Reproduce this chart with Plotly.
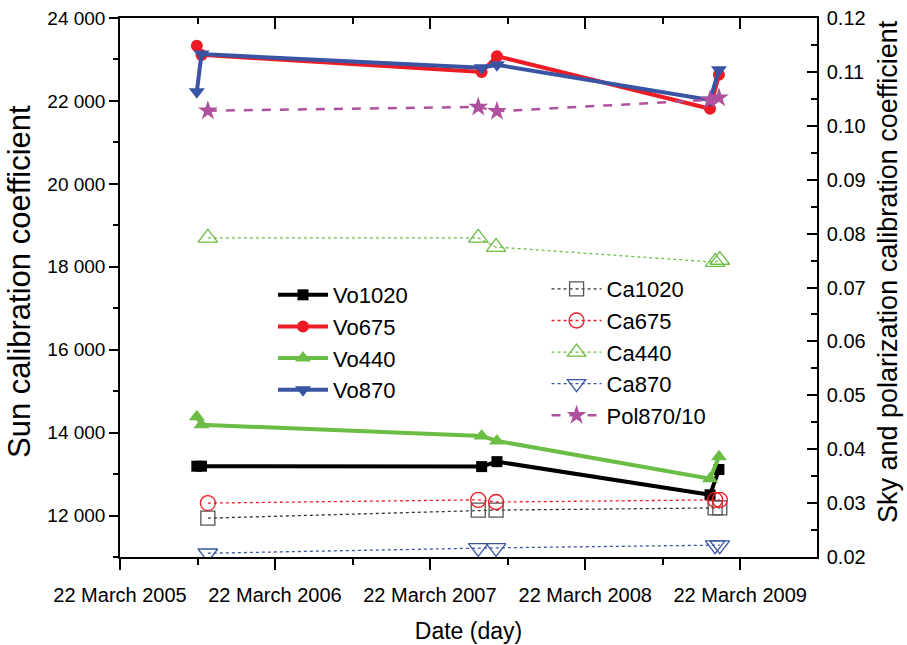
import plotly.graph_objects as go

# ---- data ----
vo_dates = ["2005-09-19", "2005-09-30", "2007-07-22", "2007-08-27", "2009-01-10", "2009-01-31"]
vo1020 = [13190, 13190, 13180, 13300, 12500, 13110]
vo675 = [23330, 23110, 22700, 23080, 21810, 22630]
vo440 = [14380, 14190, 13920, 13800, 12890, 13420]
vo870 = [22220, 23130, 22800, 22870, 22020, 22750]

ca_dates = ["2005-10-15", "2007-07-14", "2007-08-25", "2009-01-22", "2009-02-02"]
ca1020 = [0.0272, 0.0287, 0.0287, 0.0291, 0.0291]
ca675 = [0.0300, 0.0306, 0.0302, 0.0306, 0.0306]
ca440 = [0.0792, 0.0792, 0.0775, 0.0747, 0.0751]
ca870 = [0.0207, 0.0217, 0.0217, 0.0222, 0.0222]

pol_dates = ["2005-10-15", "2007-07-14", "2007-08-27", "2009-01-10", "2009-01-31"]
pol870 = [0.1028, 0.1035, 0.1027, 0.1048, 0.1052]

x_tickvals = ["2005-03-22", "2006-03-22", "2007-03-22", "2008-03-22", "2009-03-22"]
x_ticktext = ["22 March 2005", "22 March 2006", "22 March 2007", "22 March 2008", "22 March 2009"]
x_minor = ["2005-09-21", "2006-09-21", "2007-09-21", "2008-09-21", "2009-09-21"]
x_range = ["2005-03-22", "2009-09-19"]

y_tickvals = [12000, 14000, 16000, 18000, 20000, 22000, 24000]
y_ticktext = ["12 000", "14 000", "16 000", "18 000", "20 000", "22 000", "24 000"]
y2_tickvals = [0.02, 0.03, 0.04, 0.05, 0.06, 0.07, 0.08, 0.09, 0.10, 0.11, 0.12]
y2_ticktext = ["0.02", "0.03", "0.04", "0.05", "0.06", "0.07", "0.08", "0.09", "0.10", "0.11", "0.12"]

BLACK = "#000000"
RED = "#ED1C24"
GREEN = "#6CBD45"
BLUE = "#3A54A4"
PINK = "#B0519E"
FONT = "Liberation Sans, Arial, sans-serif"

fig = go.Figure()

def vo(name, y, color, symbol, size=12):
    fig.add_trace(go.Scatter(
        x=vo_dates, y=y, name=name, mode="lines+markers",
        line=dict(color=color, width=4),
        marker=dict(color=color, symbol=symbol, size=size),
        legend="legend", yaxis="y", xaxis="x"))

vo("Vo1020", vo1020, BLACK, "square", 11)
vo("Vo675", vo675, RED, "circle", 12)
vo("Vo440", vo440, GREEN, "triangle-up", 14)
vo("Vo870", vo870, BLUE, "triangle-down", 14)

def ca(name, x, y, color, symbol, mcolor=None, size=14):
    fig.add_trace(go.Scatter(
        x=x, y=y, name=name, mode="lines+markers",
        line=dict(color=color, width=1.3, dash="dot"),
        marker=dict(color=mcolor or color, symbol=symbol, size=size,
                    line=dict(width=1.3)),
        legend="legend2", yaxis="y2", xaxis="x"))

ca("Ca1020", ca_dates, ca1020, "#333333", "square-open", mcolor="#555555", size=14)
ca("Ca675", ca_dates, ca675, RED, "circle-open", size=15)
ca("Ca440", ca_dates, ca440, GREEN, "triangle-up-open", size=17)
ca("Ca870", ca_dates, ca870, BLUE, "triangle-down-open", size=17)
fig.add_trace(go.Scatter(
    x=pol_dates, y=pol870, name="Pol870/10", mode="lines+markers",
    line=dict(color=PINK, width=2.5, dash="dash"),
    marker=dict(color=PINK, symbol="star", size=15, line=dict(width=0)),
    legend="legend2", yaxis="y2", xaxis="x"))

# dummy trace for top axis
fig.add_trace(go.Scatter(x=[x_range[0]], y=[None], xaxis="x2", yaxis="y",
                         showlegend=False, hoverinfo="skip"))

fig.update_layout(
    width=907, height=645,
    margin=dict(l=120, r=90, t=18, b=88),
    paper_bgcolor="white", plot_bgcolor="white",
    font=dict(family=FONT, color="black", size=19),
    xaxis=dict(
        type="date", range=x_range, tickvals=x_tickvals, ticktext=x_ticktext,
        ticks="outside", ticklen=11, tickwidth=1.5, tickcolor="black",
        showline=True, linecolor="black", linewidth=1.5, showgrid=False, zeroline=False,
        minor=dict(tickvals=x_minor, ticks="outside", ticklen=6, tickcolor="black", tickwidth=1.5),
        tickfont=dict(size=20), ticklabelstandoff=8, automargin=False,
        title=dict(text="Date (day)", font=dict(size=23), standoff=18),
    ),
    xaxis2=dict(
        type="date", range=x_range, tickvals=x_tickvals, ticktext=["" for _ in x_tickvals],
        overlaying="x", side="top", showticklabels=False, automargin=False,
        ticks="inside", ticklen=11, tickwidth=1.5, tickcolor="black",
        showline=True, linecolor="black", linewidth=1.5, showgrid=False, zeroline=False,
        minor=dict(tickvals=x_minor, ticks="inside", ticklen=6, tickcolor="black", tickwidth=1.5),
    ),
    yaxis=dict(
        range=[11000, 24000], tickvals=y_tickvals, ticktext=y_ticktext,
        ticks="outside", ticklen=9, tickwidth=1.5, tickcolor="black",
        showline=True, linecolor="black", linewidth=1.5, showgrid=False, zeroline=False,
        minor=dict(dtick=1000, ticks="outside", ticklen=5, tickcolor="black", tickwidth=1.5),
        tickfont=dict(size=19), automargin=False,
    ),
    yaxis2=dict(
        range=[0.02, 0.12], tickvals=y2_tickvals, ticktext=y2_ticktext,
        overlaying="y", side="right", anchor="x", automargin=False,
        ticks="inside", ticklen=10, tickwidth=1.5, tickcolor="black",
        showline=True, linecolor="black", linewidth=1.5, showgrid=False, zeroline=False,
        minor=dict(dtick=0.005, ticks="inside", ticklen=6, tickcolor="black", tickwidth=1.5),
        tickfont=dict(size=20), ticklabelstandoff=4,
    ),
    legend=dict(x=0.2195, y=0.525, xanchor="left", yanchor="top",
                bgcolor="rgba(0,0,0,0)", font=dict(size=22), itemwidth=50,
                tracegroupgap=0),
    legend2=dict(x=0.612, y=0.536, xanchor="left", yanchor="top",
                 bgcolor="rgba(0,0,0,0)", font=dict(size=22), itemwidth=50,
                 tracegroupgap=0),
    showlegend=True,
    annotations=[
        dict(text="Sun calibration coefficient", textangle=-90, xref="paper", yref="paper",
             x=(19 - 120) / 697, y=1 - (282 - 18) / 539, xanchor="center", yanchor="middle",
             showarrow=False, font=dict(size=31)),
        dict(text="Sky and polarization calibration coefficient", textangle=-90,
             xref="paper", yref="paper",
             x=(905 - 120) / 697, y=1 - (272 - 18) / 539, xanchor="right", yanchor="middle",
             showarrow=False, font=dict(size=27)),
    ],
)

fig.write_html("out.html")
